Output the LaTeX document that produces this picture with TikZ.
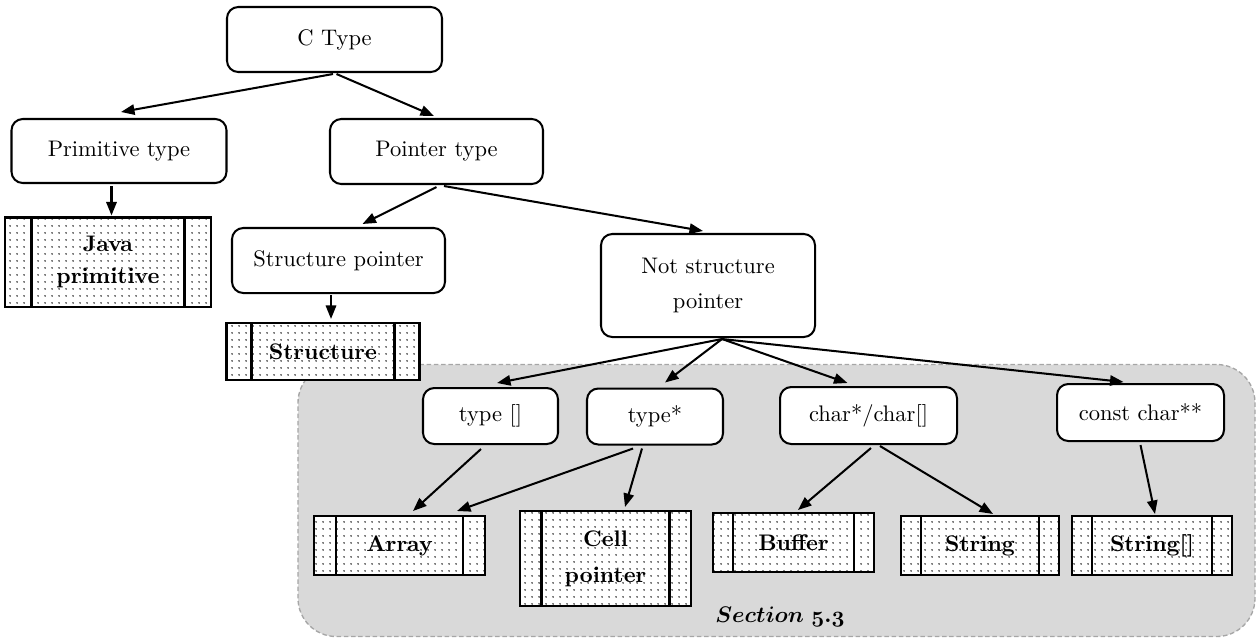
\documentclass[tikz,border=0pt]{standalone}
\usetikzlibrary{arrows.meta,patterns}
% one drawing unit = one pixel of the layout grid
\newcommand{\pxu}{0.444pt}
\pgfdeclarepatternformonly{finedots}{\pgfpointorigin}{\pgfqpoint{2.9pt}{2.9pt}}{\pgfqpoint{2.9pt}{2.9pt}}%
  {\pgfpathcircle{\pgfqpoint{1.45pt}{1.45pt}}{0.4pt}\pgfusepath{fill}}
\tikzset{
  rbox/.style 2 args={draw, line width=0.9pt, rounded corners=5pt, fill=white,
    minimum width=#1*\pxu, minimum height=#2*\pxu, inner sep=0pt, align=center},
  tbox/.style n args={3}{draw, line width=0.9pt, preaction={fill=white}, pattern=finedots,
    minimum width=#1*\pxu, minimum height=#2*\pxu, inner sep=0pt, align=center, font=\bfseries,
    path picture={
      \draw[line width=0.9pt]
        ([xshift=#3*\pxu]path picture bounding box.north west) --
        ([xshift=#3*\pxu]path picture bounding box.south west);
      \draw[line width=0.9pt]
        ([xshift=-#3*\pxu]path picture bounding box.north east) --
        ([xshift=-#3*\pxu]path picture bounding box.south east);
    }},
  region/.style={draw=black!35, dashed, dash pattern=on 2pt off 1.2pt, line width=0.6pt,
    fill=black!15, rounded corners=17pt, minimum width=957*\pxu, minimum height=272*\pxu, inner sep=0pt},
  link/.style={-{Triangle[length=6pt,width=4.6pt]}, line width=0.9pt},
}
\begin{document}
\begin{tikzpicture}[x=0.444pt, y=-0.444pt]
\useasboundingbox (0,0) rectangle (1257,639);

% shaded region for the pointer cases
\node[region] (sec) at (776.5,500.5) {};
\node[font=\boldmath] (seclabel) at (780,617)
  {$\mathnormal{Section}\ \mathnormal{5}.\mathnormal{3}$};

% type hierarchy
\node[rbox={215}{65}] (ctype) at (334.5,39.5) {C Type};
\node[rbox={215}{64}] (prim) at (119,151) {Primitive type};
\node[rbox={213}{65}] (ptr) at (436.5,151.5) {Pointer type};
\node[tbox={206}{89}{26.5}] (java) at (108,262) {Java\\[2.5pt]primitive};
\node[rbox={213}{65}] (sptr) at (338.5,260.5) {Structure pointer};
\node[rbox={214}{103}, align=center] (nsptr) at (708,285.5) {Not structure\\[3.5pt]pointer};
\node[tbox={193}{57}{25}] (struct) at (323,351.5) {Structure};

\node[rbox={135}{56}] (tarr) at (490.5,416) {type []};
\node[rbox={136}{56}] (tptr) at (655,416.5) {type*};
\node[rbox={177}{57}] (chr) at (868.5,415.5) {char*/char[]};
\node[rbox={167}{57}] (cchr) at (1140.5,412.5) {const char**};

\node[tbox={171}{59}{22}] (array) at (399.5,545.5) {Array};
\node[tbox={171}{95}{21.5}] (cell) at (605.5,558.5) {Cell\\[4pt]pointer};
\node[tbox={161}{59}{20}] (buffer) at (793.5,542.5) {Buffer};
\node[tbox={158}{59}{20}] (string) at (980,545.5) {String};
\node[tbox={160}{59}{20}] (stringarr) at (1152,545.5) {String[]};

% connectors
\draw[link] ([shift={(-1.5,1)}]ctype.south) -- ([shift={(2,-6)}]prim.north);
\draw[link] ([shift={(2,1)}]ctype.south) -- ([shift={(-2.5,-2)}]ptr.north);
\draw[link] ([shift={(-7.5,2)}]prim.south) -- ([shift={(3.5,-1)}]java.north);
\draw[link] ([shift={(0,2)}]ptr.south) -- ([shift={(24,-3)}]sptr.north);
\draw[link] ([shift={(7.5,1)}]ptr.south) -- ([shift={(-5,-2)}]nsptr.north);
\draw[link] ([shift={(-7.5,1)}]sptr.south) -- ([shift={(8,-3)}]struct.north);

\draw[link] ([shift={(14,1)}]nsptr.south) -- ([shift={(6.5,-4)}]tarr.north);
\draw[link] ([shift={(14,1)}]nsptr.south) -- ([shift={(10,-5)}]tptr.north);
\draw[link] ([shift={(14,1)}]nsptr.south) -- ([shift={(-21,-3)}]chr.north);
\draw[link] ([shift={(14,1)}]nsptr.south) -- ([shift={(-17,-1)}]cchr.north);

\draw[link] ([shift={(-9.5,4)}]tarr.south) -- ([shift={(13.5,-4)}]array.north);
\draw[link] ([shift={(-22,3)}]tptr.south) -- ([shift={(57.5,-4)}]array.north);
\draw[link] ([shift={(-13,3)}]tptr.south) -- ([shift={(19.5,-3)}]cell.north);
\draw[link] ([shift={(2.5,3)}]chr.south) -- ([shift={(4.5,-2)}]buffer.north);
\draw[link] ([shift={(11.5,1)}]chr.south) -- ([shift={(13,-1)}]string.north);
\draw[link] ([shift={(0,3)}]cchr.south) -- ([shift={(3,-1)}]stringarr.north);
\end{tikzpicture}
\end{document}
